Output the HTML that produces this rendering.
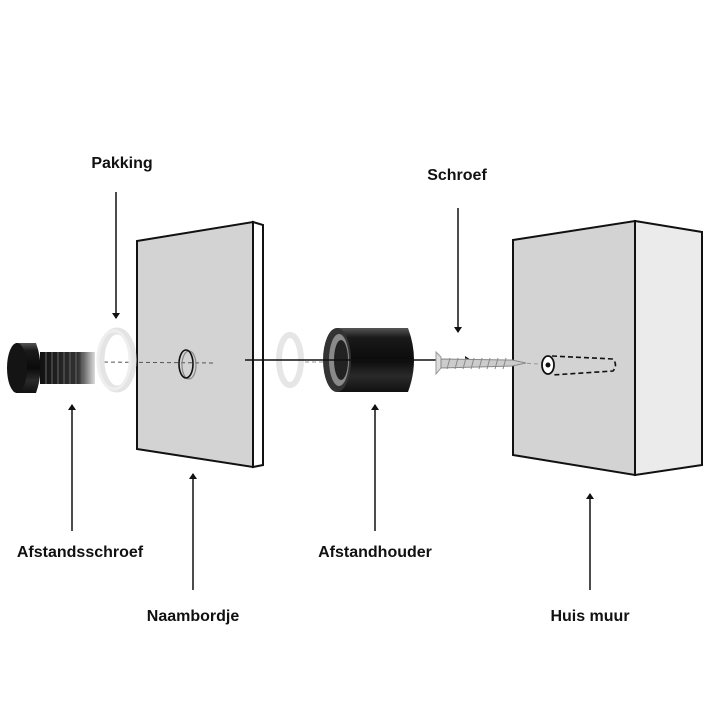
<!DOCTYPE html>
<html><head><meta charset="utf-8"><style>
html,body{margin:0;padding:0;background:#fff;}
svg{display:block}
text{font-family:"Liberation Sans",Arial,sans-serif;font-weight:bold;font-size:16px;fill:#111;text-anchor:middle}
</style></head><body>
<svg width="720" height="720" viewBox="0 0 720 720" xmlns="http://www.w3.org/2000/svg">
<defs>
<marker id="ah" markerWidth="10" markerHeight="10" refX="5" refY="5" orient="auto" markerUnits="userSpaceOnUse">
<path d="M0,1 L6,5 L0,9 Z" fill="#111"/></marker>
<linearGradient id="cyl" x1="0" y1="0" x2="0" y2="1">
<stop offset="0" stop-color="#555"/><stop offset="0.15" stop-color="#1a1a1a"/><stop offset="0.5" stop-color="#0b0b0b"/><stop offset="0.75" stop-color="#2a2a2a"/><stop offset="1" stop-color="#111"/></linearGradient>
<linearGradient id="thr" x1="0" y1="0" x2="1" y2="0">
<stop offset="0" stop-color="#111"/><stop offset="0.7" stop-color="#333"/><stop offset="1" stop-color="#ddd"/></linearGradient>
</defs>
<polygon points="137,241 253,222 253,467 137,449" fill="#d3d3d3" stroke="#111" stroke-width="2"/>
<polygon points="253,222 263,225 263,465 253,467" fill="#fff" stroke="#111" stroke-width="2"/>
<polygon points="513,240 635,221 635,475 513,455" fill="#d3d3d3" stroke="#111" stroke-width="2"/>
<polygon points="635,221 702,232 702,465 635,475" fill="#ebebeb" stroke="#111" stroke-width="2"/>
<line x1="97" y1="362" x2="215" y2="363" stroke="#555" stroke-width="1" stroke-dasharray="4,3"/>
<line x1="305" y1="362" x2="325" y2="362" stroke="#999" stroke-width="1" stroke-dasharray="4,3"/>
<line x1="520" y1="363" x2="540" y2="364" stroke="#999" stroke-width="1" stroke-dasharray="4,3"/>
<ellipse cx="189" cy="365" rx="7" ry="14" fill="none" stroke="#888" stroke-width="1.2"/>
<ellipse cx="186" cy="364" rx="7" ry="14" fill="none" stroke="#111" stroke-width="1.6"/>
<rect x="40" y="352" width="55" height="32" fill="url(#thr)"/>
<g stroke="#666" stroke-width="1">
<line x1="46" y1="352" x2="46" y2="384"/><line x1="52" y1="352" x2="52" y2="384"/><line x1="58" y1="352" x2="58" y2="384"/><line x1="64" y1="352" x2="64" y2="384"/><line x1="70" y1="352" x2="70" y2="384"/><line x1="76" y1="352" x2="76" y2="384"/><line x1="82" y1="352" x2="82" y2="384"/>
</g>
<path d="M16,343 L36,343 Q45,368 36,393 L16,393 Z" fill="url(#cyl)"/>
<ellipse cx="17" cy="368" rx="10" ry="25" fill="#141414"/>
<ellipse cx="117" cy="360" rx="16" ry="29" fill="none" stroke="#e4e4e4" stroke-width="7"/>
<ellipse cx="114" cy="360" rx="16" ry="29" fill="none" stroke="#eee" stroke-width="3"/>
<ellipse cx="290" cy="360" rx="11" ry="25" fill="none" stroke="#e6e6e6" stroke-width="6"/>
<path d="M337,328 L408,328 Q420,360 408,392 L337,392 Z" fill="url(#cyl)"/>
<ellipse cx="337" cy="360" rx="14" ry="32" fill="#333"/>
<ellipse cx="339" cy="360" rx="10" ry="26" fill="#8a8a8a"/>
<ellipse cx="341" cy="360" rx="7" ry="20" fill="#222"/>
<line x1="245" y1="360" x2="470" y2="360" stroke="#111" stroke-width="1.5" marker-end="url(#ah)"/>
<path d="M436,352 L441,357 L441,368 L436,374 Z" fill="#ddd" stroke="#999" stroke-width="1"/>
<path d="M441,359 L512,360 L526,363 L512,366 L441,368 Z" fill="#ccc" stroke="#888" stroke-width="1"/>
<g stroke="#888" stroke-width="1"><line x1="450" y1="358" x2="447" y2="369"/><line x1="458" y1="358" x2="455" y2="369"/><line x1="466" y1="358" x2="463" y2="369"/><line x1="474" y1="358" x2="471" y2="369"/><line x1="482" y1="358" x2="479" y2="369"/><line x1="490" y1="358" x2="487" y2="369"/><line x1="498" y1="358" x2="495" y2="369"/><line x1="506" y1="358" x2="503" y2="369"/></g>
<path d="M552,356 L613,359 Q618,365 613,371 L552,375" fill="none" stroke="#111" stroke-width="1.6" stroke-dasharray="5,3"/>
<ellipse cx="548" cy="365" rx="6" ry="9" fill="#fff" stroke="#111" stroke-width="1.8"/>
<circle cx="548" cy="365" r="2.5" fill="#111"/>
<g stroke="#111" stroke-width="1.5" marker-end="url(#ah)">
<line x1="116" y1="192" x2="116" y2="318"/>
<line x1="458" y1="208" x2="458" y2="332"/>
<line x1="72" y1="531" x2="72" y2="405"/>
<line x1="193" y1="590" x2="193" y2="474"/>
<line x1="375" y1="531" x2="375" y2="405"/>
<line x1="590" y1="590" x2="590" y2="494"/>
</g>
<text x="122" y="168">Pakking</text>
<text x="457" y="180">Schroef</text>
<text x="80" y="557">Afstandsschroef</text>
<text x="375" y="557">Afstandhouder</text>
<text x="193" y="621">Naambordje</text>
<text x="590" y="621">Huis muur</text>
</svg>
</body></html>
